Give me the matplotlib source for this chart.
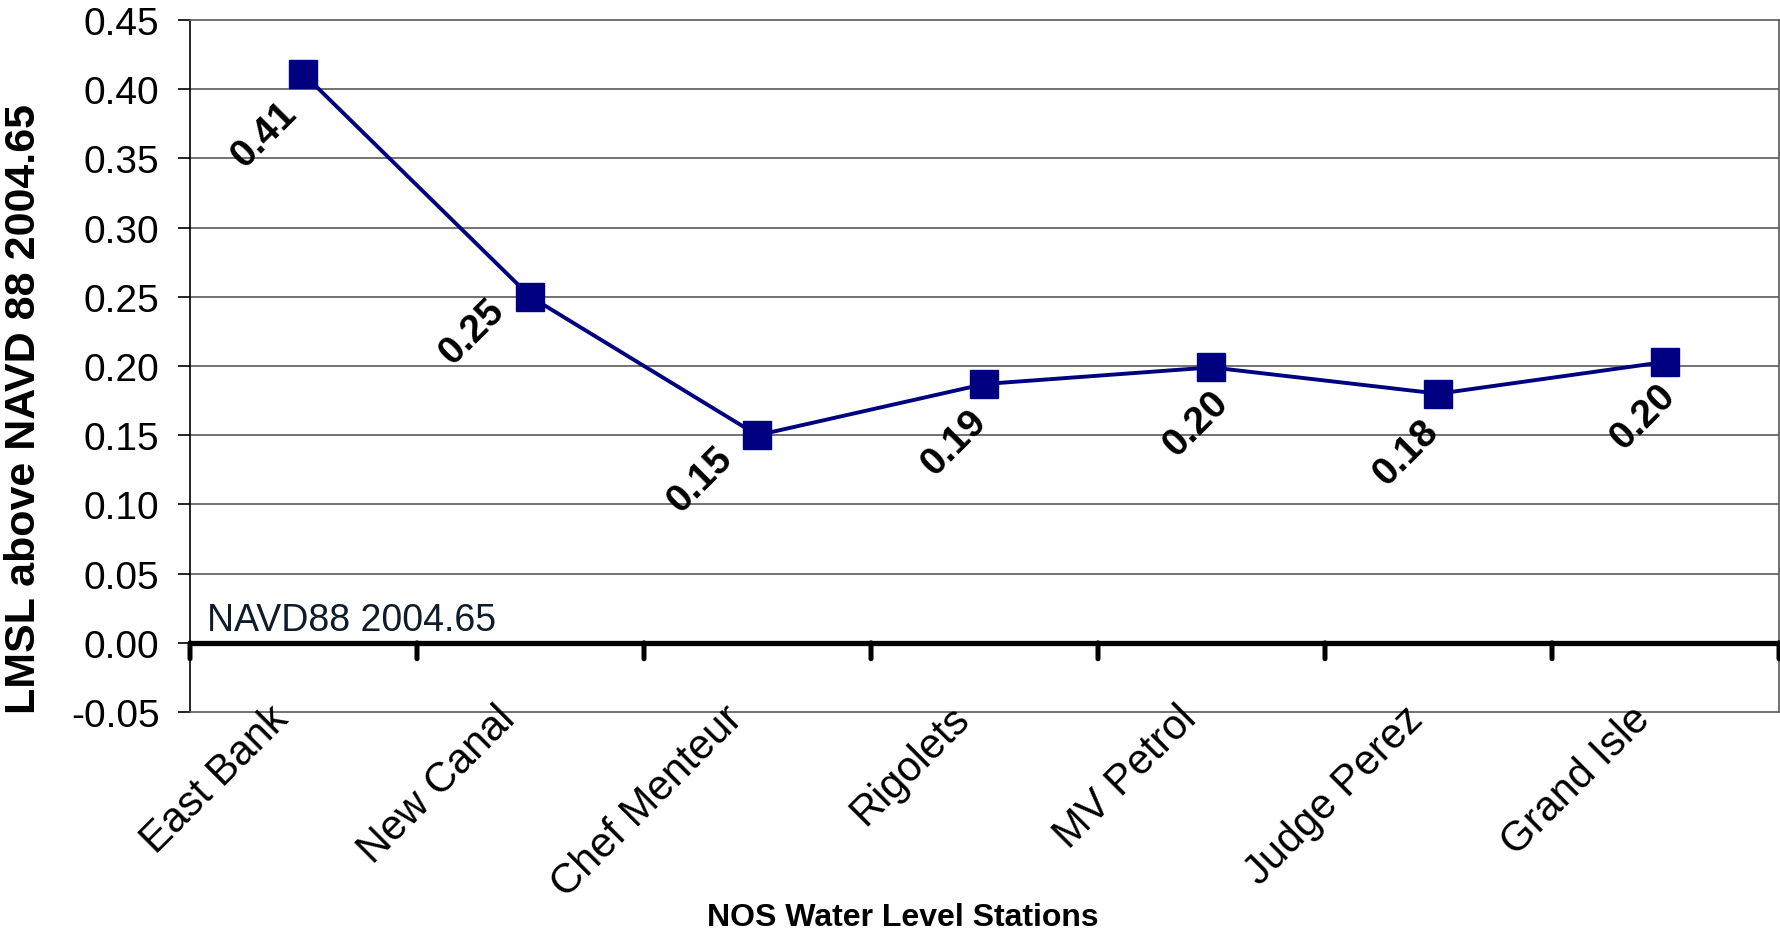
import matplotlib
matplotlib.use("Agg")
import matplotlib.pyplot as plt

plt.rcParams['font.family'] = ['Liberation Sans', 'DejaVu Sans']

# Stations and local mean sea level above NAVD 88 (2004.65 epoch), in metres
stations = ["East Bank", "New Canal", "Chef Menteur", "Rigolets",
            "MV Petrol", "Judge Perez", "Grand Isle"]
lmsl = [0.411, 0.250, 0.150, 0.187, 0.199, 0.180, 0.203]
y_ticks = [-0.05, 0.00, 0.05, 0.10, 0.15, 0.20, 0.25, 0.30, 0.35, 0.40, 0.45]

# label offsets (points) relative to each marker
label_offsets = [(-28, -43), (-42, -25), (-41, -32), (-22, -42),
                 (-11, -40), (-23, -42), (-16, -39)]

navy = "#000080"
grid_c = "#5a5a5a"

fig = plt.figure(figsize=(17.81, 9.37), dpi=100)
ax = fig.add_axes([190 / 1781, (937 - 713) / 937,
                   (1779 - 190) / 1781, (713 - 21) / 937])

n = len(stations)
x = list(range(n))
ax.set_xlim(-0.5, n - 0.5)
ax.set_ylim(y_ticks[0], y_ticks[-1])

# horizontal gridlines
for yv in y_ticks[1:-1]:
    if yv != 0:
        ax.axhline(yv, color=grid_c, lw=1.2, zorder=1)

for side in ("top", "right", "bottom"):
    ax.spines[side].set_color(grid_c)
    ax.spines[side].set_linewidth(1.2)
ax.spines["left"].set_color("black")
ax.spines["left"].set_linewidth(1.2)

# heavy zero line with category-boundary ticks
ax.axhline(0, color="black", lw=3.8, zorder=3, solid_capstyle="butt")
for b in range(n + 1):
    ax.annotate("", xy=(b - 0.5, 0), xycoords="data",
                xytext=(0, -11.5), textcoords="offset points",
                arrowprops=dict(arrowstyle="-", lw=3.6, color="black",
                                shrinkA=0, shrinkB=0, capstyle="round"),
                annotation_clip=False, zorder=3)

# series
ax.plot(x, lmsl, color=navy, lw=2.8, marker="s", markersize=20,
        markerfacecolor=navy, markeredgecolor=navy, zorder=5, clip_on=False)

for xi, v, (dx, dy) in zip(x, lmsl, label_offsets):
    ax.annotate(f"{v:.2f}", xy=(xi, v), xytext=(dx, dy),
                textcoords="offset points", ha="center", va="center",
                rotation=45, fontsize=28, fontweight="bold", color="black",
                zorder=6)

# y axis
ax.set_yticks(y_ticks)
ax.set_yticklabels([f"{v:.2f}" for v in y_ticks], fontsize=28)
ax.tick_params(axis="y", direction="out", length=9, width=1.2, pad=13,
               colors="black")
ax.set_xticks([])

# category labels
for xi, name in zip(x, stations):
    ax.annotate(name, xy=(xi, 0), xycoords=("data", "axes fraction"),
                xytext=(-5, 10), textcoords="offset points",
                ha="right", va="top", rotation=45, fontsize=30,
                annotation_clip=False)

ax.text(0.011, 0.118, "NAVD88 2004.65", transform=ax.transAxes,
        fontsize=27, color="#0d1b2a", ha="left", va="baseline")

fig.text(24 / 1781, 1 - 409 / 937, "LMSL above NAVD 88 2004.65",
         rotation=90, ha="center", va="center", fontsize=31,
         fontweight="bold")
fig.text(903 / 1781, 1 - 918 / 937, "NOS Water Level Stations",
         ha="center", va="center", fontsize=23, fontweight="bold")

fig.savefig("out.png", dpi=100, facecolor="white")
